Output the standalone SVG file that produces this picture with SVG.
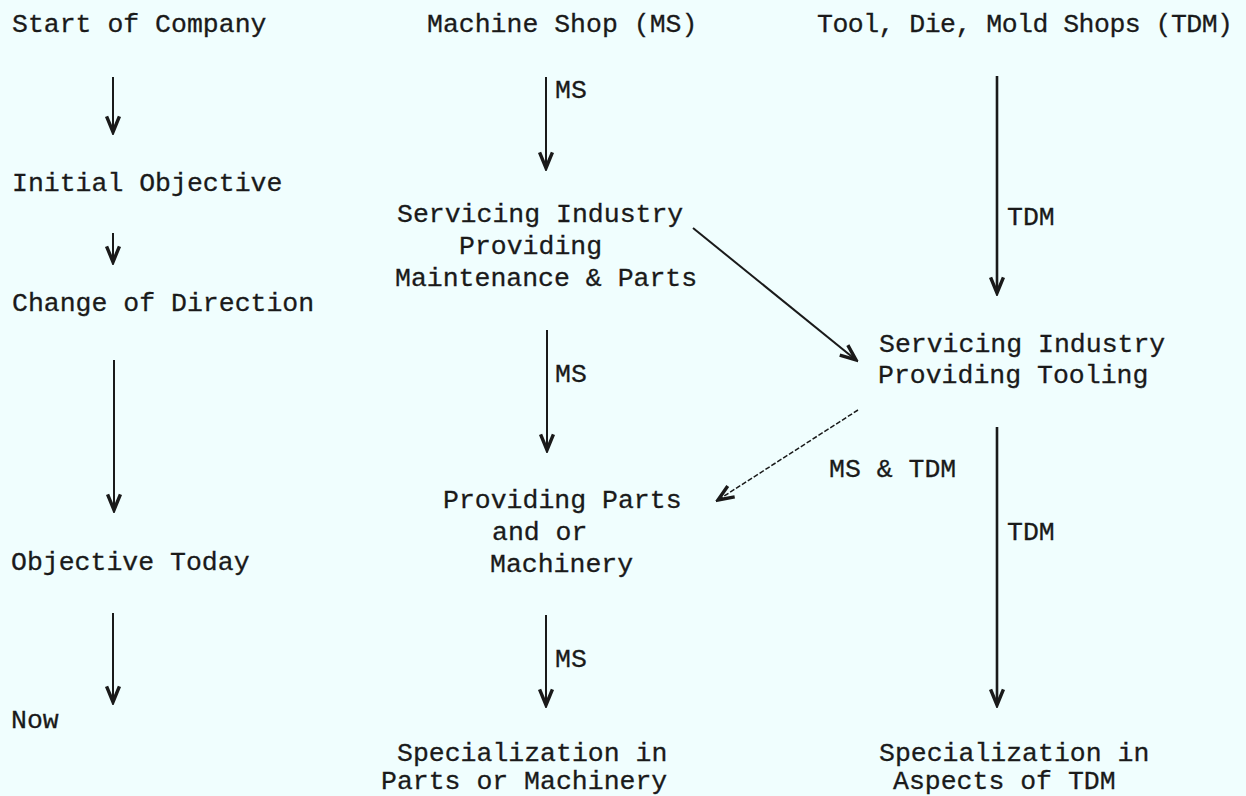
<svg xmlns="http://www.w3.org/2000/svg" width="1246" height="796" viewBox="0 0 1246 796">
<style>
text{font-family:"Liberation Mono","Courier New",monospace;font-size:26.5px;fill:#1a1a1a;stroke:#1a1a1a;stroke-width:0.3}
.c line{stroke:#1a1a1a;stroke-width:2;fill:none}
.c .thick{stroke-width:2.6}
.c .dash{stroke-width:1.5;stroke-dasharray:5 2}
</style>
<defs>
<marker id="ah" markerUnits="userSpaceOnUse" markerWidth="20" markerHeight="20" viewBox="-12 -7 14 14" refX="0" refY="0" orient="auto">
<path d="M -11 -4.5 L 0 0 L -11 4.5" fill="none" stroke="#1a1a1a" stroke-width="2.4" stroke-linejoin="miter"/>
</marker>
</defs>
<rect width="1246" height="796" fill="#f0fefe"/>
<g id="n-start"><text x="12" y="32">Start of Company</text></g>
<g id="n-initial"><text x="12" y="191">Initial Objective</text></g>
<g id="n-change"><text x="12" y="311">Change of Direction</text></g>
<g id="n-today"><text x="11" y="570">Objective Today</text></g>
<g id="n-now"><text x="11" y="728">Now</text></g>
<g id="n-ms"><text x="427" y="32">Machine Shop (MS)</text></g>
<g id="n-ms-service"><text x="397" y="222">Servicing Industry</text><text x="459" y="254">Providing</text><text x="395" y="286">Maintenance &amp; Parts</text></g>
<g id="n-ms-parts"><text x="443" y="508">Providing Parts</text><text x="492" y="540">and or</text><text x="490" y="572">Machinery</text></g>
<g id="n-ms-spec"><text x="397" y="761">Specialization in</text><text x="381" y="789">Parts or Machinery</text></g>
<g id="n-tdm"><text x="817" y="32" textLength="416" lengthAdjust="spacing">Tool, Die, Mold Shops (TDM)</text></g>
<g id="n-tdm-service"><text x="879" y="352">Servicing Industry</text><text x="878" y="383">Providing Tooling</text></g>
<g id="n-tdm-spec"><text x="879" y="761">Specialization in</text><text x="893" y="789">Aspects of TDM</text></g>
<g id="connectors" class="c">
<line x1="113" y1="77" x2="113" y2="132" marker-end="url(#ah)"/>
<line x1="113" y1="233" x2="113" y2="262" marker-end="url(#ah)"/>
<line x1="114" y1="360" x2="114" y2="510" marker-end="url(#ah)"/>
<line x1="113" y1="613" x2="113" y2="702" marker-end="url(#ah)"/>
<line x1="546" y1="77" x2="546" y2="168" marker-end="url(#ah)"/>
<line x1="547" y1="330" x2="547" y2="450" marker-end="url(#ah)"/>
<line x1="546" y1="615" x2="546" y2="705" marker-end="url(#ah)"/>
<line class="thick" x1="997" y1="76" x2="997" y2="293" marker-end="url(#ah)"/>
<line class="thick" x1="997" y1="427" x2="997" y2="705" marker-end="url(#ah)"/>
<line x1="693" y1="228" x2="856" y2="360" marker-end="url(#ah)"/>
<line class="dash" x1="858" y1="410" x2="718" y2="500" marker-end="url(#ah)"/>
<text x="555" y="98">MS</text>
<text x="1007" y="225">TDM</text>
<text x="555" y="382">MS</text>
<text x="829" y="477">MS &amp; TDM</text>
<text x="1007" y="540">TDM</text>
<text x="555" y="667">MS</text>
</g>
</svg>
